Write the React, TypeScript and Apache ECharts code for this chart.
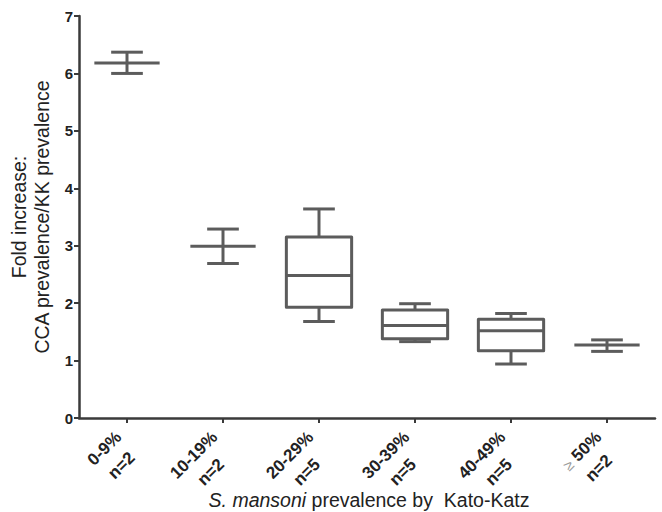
import React, { useEffect, useRef } from "react";
import * as echarts from "echarts";

const categories = ["0-9%", "10-19%", "20-29%", "30-39%", "40-49%", "≥ 50%"];
const sampleSizes = ["n=2", "n=2", "n=5", "n=5", "n=5", "n=2"];
const minValues = [6.0, 2.69, 1.68, 1.33, 0.94, 1.16];
const q1Values: (number | null)[] = [null, null, 1.93, 1.38, 1.17, null];
const medianValues = [6.18, 2.99, 2.48, 1.61, 1.52, 1.27];
const q3Values: (number | null)[] = [null, null, 3.15, 1.88, 1.72, null];
const maxValues = [6.37, 3.29, 3.64, 1.99, 1.82, 1.36];
const yTicks = [0, 1, 2, 3, 4, 5, 6, 7];

const LINE = "#5c5c5c";
const AXIS = "#3a3a3a";
const FONT = "'Liberation Sans', Arial, sans-serif";

export default function App() {
  const ref = useRef<HTMLDivElement>(null);
  useEffect(() => {
    if (!ref.current) return;
    const chart = echarts.init(ref.current, undefined, { renderer: "svg" });
    const data = categories.map((_, i) => [
      i,
      minValues[i],
      q1Values[i] ?? medianValues[i],
      medianValues[i],
      q3Values[i] ?? medianValues[i],
      maxValues[i],
      q1Values[i] == null ? 0 : 1,
    ]);
    const renderItem = (params: any, api: any) => {
      const idx = api.value(0);
      const band = api.size([1, 0])[0];
      const boxW = band * 0.68;
      const capW = band * 0.33;
      const pMin = api.coord([idx, api.value(1)]);
      const pQ1 = api.coord([idx, api.value(2)]);
      const pMed = api.coord([idx, api.value(3)]);
      const pQ3 = api.coord([idx, api.value(4)]);
      const pMax = api.coord([idx, api.value(5)]);
      const hasBox = api.value(6) === 1;
      const x = pMed[0];
      const style = { stroke: LINE, lineWidth: 3, fill: null, lineCap: "butt", lineJoin: "round" };
      const children: any[] = [];
      const line = (x1: number, y1: number, x2: number, y2: number) =>
        children.push({ type: "line", shape: { x1, y1, x2, y2 }, style });
      line(x - capW / 2, pMax[1], x + capW / 2, pMax[1]);
      line(x - capW / 2, pMin[1], x + capW / 2, pMin[1]);
      if (hasBox) {
        line(x, pMax[1], x, pQ3[1]);
        line(x, pQ1[1], x, pMin[1]);
        children.push({
          type: "rect",
          shape: { x: x - boxW / 2, y: pQ3[1], width: boxW, height: pQ1[1] - pQ3[1] },
          style,
        });
        line(x - boxW / 2, pMed[1], x + boxW / 2, pMed[1]);
      } else {
        line(x, pMax[1], x, pMin[1]);
        line(x - boxW / 2, pMed[1], x + boxW / 2, pMed[1]);
      }
      return { type: "group", children };
    };
    const labelStyle = {
      align: "center",
      fontFamily: FONT,
      fontSize: 17,
      fontWeight: "bold",
      color: "#222",
      lineHeight: 24,
    };
    chart.setOption({
      animation: false,
      backgroundColor: "#ffffff",
      grid: {
        left: 79,
        right: 7,
        top: 16,
        bottom: 94,
        containLabel: false,
        outerBoundsMode: "none",
      },
      graphic: [
        {
          type: "text",
          x: 369,
          y: 500,
          style: {
            text: "{it|S. mansoni} prevalence by  Kato-Katz",
            align: "center",
            verticalAlign: "middle",
            fontFamily: FONT,
            fontSize: 19.5,
            fill: "#222",
            rich: {
              it: { fontStyle: "italic", fontSize: 19.5, fontFamily: FONT, fill: "#222" },
            },
          },
        },
      ],
      xAxis: {
        type: "category",
        data: categories,
        boundaryGap: true,
        axisLine: { show: true, lineStyle: { color: AXIS, width: 2.5 } },
        axisTick: { show: true, alignWithLabel: true, length: 5, lineStyle: { color: AXIS, width: 2 } },
        axisLabel: {
          rotate: 45,
          margin: 25,
          interval: 0,
          hideOverlap: false,
          fontFamily: FONT,
          fontSize: 17,
          fontWeight: "bold",
          color: "#222",
          lineHeight: 24,
          formatter: (v: string) => {
            const i = categories.indexOf(v);
            const head = v.startsWith("≥") ? "{g|≥}{a|" + v.slice(1) + "}" : "{a|" + v + "}";
            return head + "\n{a|" + sampleSizes[i] + "}";
          },
          rich: {
            a: labelStyle,
            g: { ...labelStyle, color: "#9a9a9a", fontWeight: "normal", fontSize: 15 },
          },
        },
      },
      yAxis: {
        type: "value",
        min: yTicks[0],
        max: yTicks[yTicks.length - 1],
        interval: 1,
        splitLine: { show: false },
        axisLine: { show: true, lineStyle: { color: AXIS, width: 2.5 } },
        axisTick: { show: true, length: 5, lineStyle: { color: AXIS, width: 2 } },
        axisLabel: {
          margin: 6,
          fontFamily: FONT,
          fontSize: 15,
          fontWeight: "bold",
          color: "#222",
        },
        name: "Fold increase:\nCCA prevalence/KK prevalence",
        nameLocation: "middle",
        nameRotate: 90,
        nameGap: 24,
        nameTextStyle: { fontFamily: FONT, fontSize: 19.5, color: "#222", lineHeight: 23 },
      },
      series: [
        {
          type: "custom",
          renderItem,
          data,
          encode: { x: 0, y: [1, 5] },
          clip: false,
        },
      ],
    });
    return () => chart.dispose();
  }, []);
  return (
    <div
      ref={ref}
      style={{ position: "fixed", left: 0, top: 0, width: 662, height: 512 }}
    />
  );
}
